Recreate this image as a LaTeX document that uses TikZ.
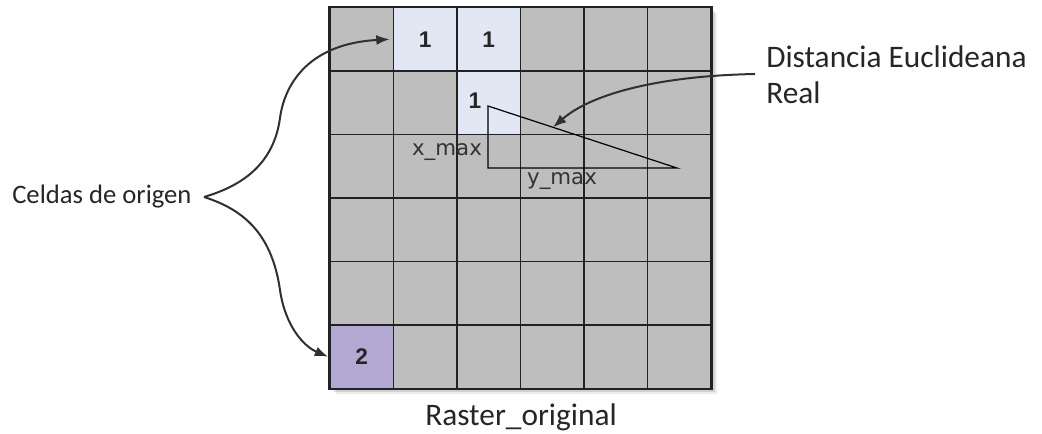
\documentclass[tikz,border=0pt]{standalone}
\usepackage{fontspec}
\setmainfont{Carlito}
\newfontfamily\numfont{Liberation Sans}
\newfontfamily\dvfont{DejaVu Sans}
\usetikzlibrary{arrows.meta, calc, positioning}

\definecolor{cellgray}{HTML}{BEBEBE}
\definecolor{celllight}{HTML}{E1E7F3}
\definecolor{cellpurple}{HTML}{B2A8D2}
\definecolor{gridline}{HTML}{222222}
\definecolor{curvecol}{HTML}{303030}

\tikzset{
    cell/.style={draw=gridline, line width=1.3pt, minimum size=47.6pt, inner sep=0pt, fill=cellgray},
    cellnum/.style={font=\numfont\bfseries\fontsize{17}{20}\selectfont, text=black!85},
    sidelabel/.style={font=\fontsize{23.5}{27}\selectfont, text=black!85, inner sep=0pt},
    dimlabel/.style={font=\dvfont\fontsize{16}{19}\selectfont, text=black!80, inner sep=0pt},
    pointer/.style={draw=curvecol, line width=1.5pt, -{Latex[length=10pt, width=7.5pt]}}
}

\begin{document}
\begin{tikzpicture}[x=0.75pt, y=-0.75pt]
    \useasboundingbox (0,0) rectangle (1042,434);

    % Shadow under the raster
    \foreach \d/\o in {2/0.18, 4/0.12, 6/0.07} {
        \fill[black, opacity=\o] (330+\d,7.5+\d) rectangle (711+\d,388+\d);
    }

    % Raster cells
    \foreach \r in {0,...,5} {
        \foreach \c in {0,...,5} {
            \node[cell] (c\r\c) at ({330+63.5*(\c+0.5)}, {7.5+63.5*(\r+0.5)}) {};
        }
    }
    \node[cell, fill=celllight] at (c01) {};
    \node[cell, fill=celllight] at (c02) {};
    \node[cell, fill=celllight] at (c12) {};
    \node[cell, fill=cellpurple] at (c50) {};
    \draw[gridline, line width=1.5pt] (c00.north west) rectangle (c55.south east);

    % Cell values
    \node[cellnum] (v1) at (c01) {1};
    \node[cellnum] (v2) at (c02) {1};
    \node[cellnum] (v3) at (475,101) {1};
    \node[cellnum] (v4) at (c50) {2};

    % Triangle of the real euclidean distance
    \coordinate (ta) at (488,106);
    \coordinate (tb) at (488,168);
    \coordinate (tc) at (677,168);
    \draw[black, line width=0.9pt] (ta) -- (tb) -- (tc) -- cycle;
    \coordinate (hyp) at ($(ta)!0.344!(tc)$);
    \node[dimlabel] (xmax) at (447,152) {x\_max};
    \node[dimlabel] (ymax) at (562,181) {y\_max};

    % Labels
    \node[sidelabel, font=\fontsize{20}{24}\selectfont, anchor=west] (origen) at (12,197) {Celdas de origen};
    \node[sidelabel, anchor=west, align=left] (euclid) at (766,75) {Distancia Euclideana\\Real};
    \node[sidelabel, fill=white, inner sep=4pt] (raster) at (521,417) {Raster\_original};

    % Pointers
    \coordinate (fork) at (204,197);
    \coordinate (dstart) at (755,74);
    \draw[pointer] (fork) .. controls (245,185) and (274,162) .. (280,118)
        .. controls (284,88) and (305,44) .. ($(c01.west)+(-3,0)$);
    \draw[pointer] (fork) .. controls (245,210) and (272,235) .. (280,290)
        .. controls (285,325) and (303,346) .. ($(c50.west)+(-1,0)$);
    \draw[pointer] (dstart) .. controls (655,76) and (590,95) .. (hyp);
\end{tikzpicture}
\end{document}
